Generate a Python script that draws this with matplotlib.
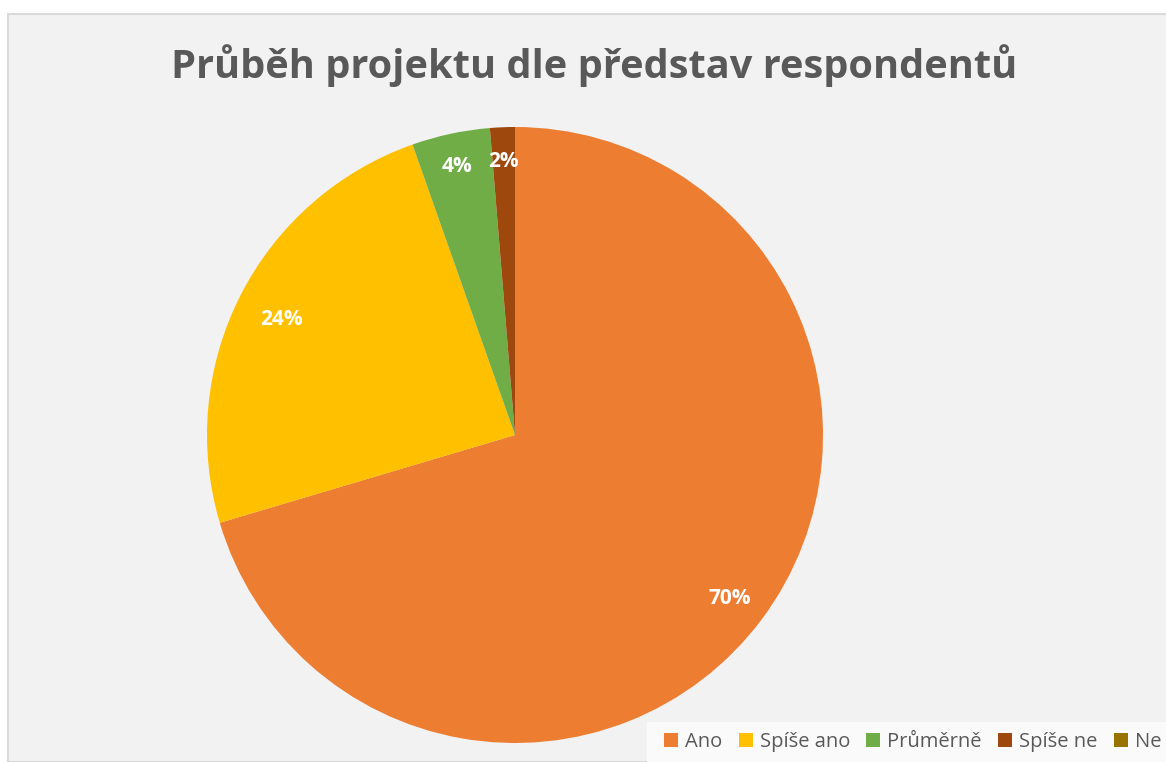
import matplotlib
matplotlib.use("Agg")
import matplotlib.pyplot as plt
from matplotlib.patches import Rectangle
import matplotlib.transforms as mtransforms
import numpy as np

categories = ["Ano", "Spíše ano", "Průměrně", "Spíše ne", "Ne"]
shares = [70.4, 24.2, 4.1, 1.3, 0.0]
data_labels = ["70%", "24%", "4%", "2%", ""]
colors = ["#ED7D31", "#FFC000", "#70AD47", "#9E480E", "#997300"]
title = "Průběh projektu dle představ respondentů"

W, H = 1166, 762
fig = plt.figure(figsize=(W / 100, H / 100), dpi=100)
fig.patch.set_facecolor("white")

# chart area background
fig.patches.append(Rectangle((8 / W, 0), 1.0, (H - 14) / H, transform=fig.transFigure,
                             facecolor="#F2F2F2", edgecolor="#D9D9D9", linewidth=1.5, zorder=-2))

cx, cy, r = 515, 435, 308
ax = fig.add_axes([(cx - r) / W, (H - cy - r) / H, 2 * r / W, 2 * r / H])
wedges, _ = ax.pie(shares, colors=colors, startangle=90, counterclock=False,
                   wedgeprops=dict(linewidth=0))
ax.set_xlim(-1, 1)
ax.set_ylim(-1, 1)
ax.set_aspect("equal")
ax.axis("off")

offset = mtransforms.ScaledTranslation(0, -3 / 100, fig.dpi_scale_trans)
dists = [0.87, 0.85, 0.9, 0.9, 0.9]
for w, lab, d in zip(wedges, data_labels, dists):
    if not lab:
        continue
    ang = np.deg2rad((w.theta1 + w.theta2) / 2)
    ax.text(d * np.cos(ang), d * np.sin(ang), lab, ha="center", va="center",
            color="white", fontsize=15, fontweight="bold", family="Open Sans",
            transform=ax.transData + offset)

fig.text(594 / W, 1 - 66 / H, title, ha="center", va="center", fontsize=28.6,
         fontweight="bold", color="#595959", family="Open Sans")

# legend
fig.patches.append(Rectangle((647 / W, 0), 1.0, 40 / H, transform=fig.transFigure,
                             facecolor="#FAFAFA", edgecolor="none", zorder=-1))
handles = [Rectangle((0, 0), 1, 1, facecolor=c) for c in colors]
leg = fig.legend(handles, categories, loc="center left", bbox_to_anchor=(664 / W, 1 - 742 / H),
                 ncol=5, frameon=False, handlelength=0.7, handleheight=0.7,
                 handletextpad=0.35, columnspacing=0.8, borderaxespad=0, borderpad=0,
                 prop=dict(family="Open Sans", size=14.5))
for t in leg.get_texts():
    t.set_color("#595959")

fig.savefig("out.png", dpi=100)
